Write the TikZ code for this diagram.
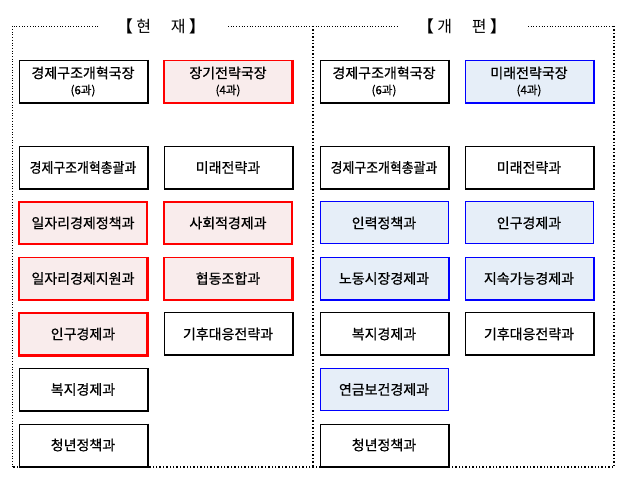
\documentclass[tikz,border=0pt]{standalone}
\usepackage{fontspec}
\newfontfamily\kr{Noto Sans CJK KR}
\newfontfamily\krb[FakeBold=0.7]{Noto Sans CJK KR}
\definecolor{redfill}{HTML}{F9ECEC}
\definecolor{bluefill}{HTML}{E6EEF8}

\begin{document}
\begin{tikzpicture}[x=1pt,y=-1pt,
	unit/.style={ draw, line width=1pt, fill=white, minimum width=128pt, minimum height=42pt, inner sep=0pt, align=center, font=\krb\fontsize{14}{16}\selectfont },
	unitr/.style={ unit, draw=red, fill=redfill, line width=1.4pt },
	unitb/.style={ unit, draw=blue, fill=bluefill },
	frame/.style={ dotted, line width=0.7pt },
	frameb/.style={ dotted, line width=1.4pt },
	title/.style={ font=\kr\fontsize{16}{18}\selectfont }
]
\useasboundingbox (0,0) rectangle (632,486);

% frames
\node at (161,26) (tcur) [title] {\textbf{【} 현\quad\ 재 \textbf{】}};
\node at (462,26) (tnew) [title] {\textbf{【} 개\quad\ 편 \textbf{】}};
\draw[frame] (98,26) -- (12,26) -- (12,467);
\draw[frame] (228,26) -- (313,26);
\draw[frame] (313,26) -- (398,26);
\draw[frame] (528,26) -- (614,26);
\draw[frameb] (313,26) -- (313,467);
\draw[frameb] (614,26) -- (614,467) -- (12,467);

% current
\node at (83,81.5) (cg) [unit] {경제구조개혁국장\\[0pt]{\fontsize{11.5}{13}\selectfont (6과)}};
\node at (228,81.5) (cj) [unitr] {장기전략국장\\[0pt]{\fontsize{11.5}{13}\selectfont (4과)}};
\node at (83,167.5) (ca1) [unit] {\scalebox{0.92}[1]{경제구조개혁총괄과}};
\node at (83,223) (ca2) [unitr] {일자리경제정책과};
\node at (83,278.5) (ca3) [unitr] {일자리경제지원과};
\node at (83,334) (ca4) [unitr] {인구경제과};
\node at (83,389.5) (ca5) [unit] {복지경제과};
\node at (83,445) (ca6) [unit] {청년정책과};
\node at (228,167.5) (cb1) [unit] {미래전략과};
\node at (228,223) (cb2) [unitr] {사회적경제과};
\node at (228,278.5) (cb3) [unitr] {협동조합과};
\node at (228,334) (cb4) [unit] {기후대응전략과};

% reorganized
\node at (384,81.5) (ng) [unit] {경제구조개혁국장\\[0pt]{\fontsize{11.5}{13}\selectfont (6과)}};
\node at (529,81.5) (nm) [unitb] {미래전략국장\\[0pt]{\fontsize{11.5}{13}\selectfont (4과)}};
\node at (384,167.5) (na1) [unit] {\scalebox{0.92}[1]{경제구조개혁총괄과}};
\node at (384,223) (na2) [unitb] {인력정책과};
\node at (384,278.5) (na3) [unitb] {노동시장경제과};
\node at (384,334) (na4) [unit] {복지경제과};
\node at (384,389.5) (na5) [unitb] {연금보건경제과};
\node at (384,445) (na6) [unit] {청년정책과};
\node at (529,167.5) (nb1) [unit] {미래전략과};
\node at (529,223) (nb2) [unitb] {인구경제과};
\node at (529,278.5) (nb3) [unitb] {지속가능경제과};
\node at (529,334) (nb4) [unit] {기후대응전략과};

\foreach \n in {cg,ca1,ca5,ca6,cb1,cb4,ng,na1,na4,na6,nb1,nb4}
	\draw[line width=2pt] (\n.north east) -- (\n.south east) -- (\n.south west);
\foreach \n in {cj,ca3,ca4,cb3}
	\draw[red,line width=2pt] (\n.north east) -- (\n.south east) -- (\n.south west);
\foreach \n in {nm,na3,nb3}
	\draw[blue,line width=2pt] (\n.north east) -- (\n.south east) -- (\n.south west);

\end{tikzpicture}
\end{document}
